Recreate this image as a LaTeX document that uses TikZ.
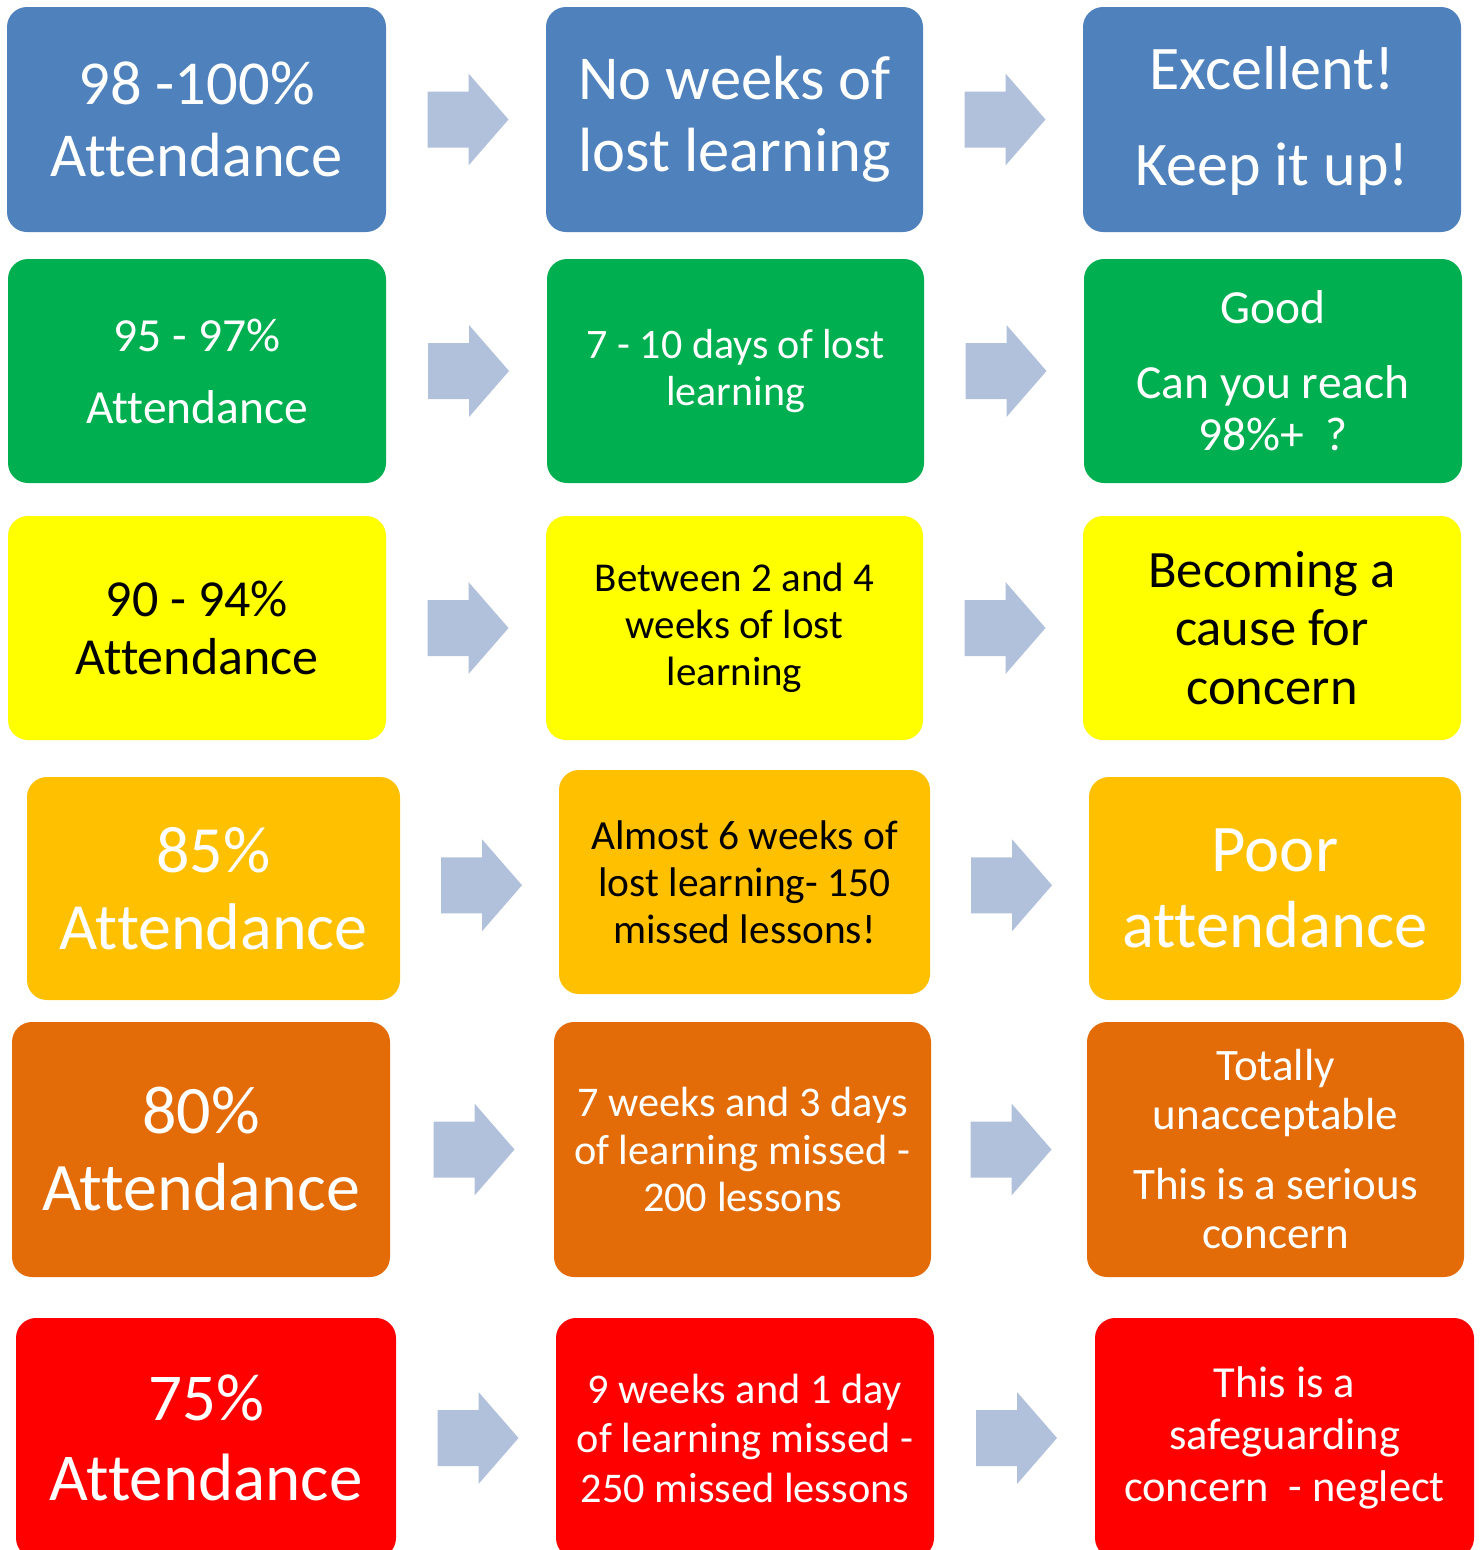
\documentclass[tikz,border=0pt]{standalone}
\usepackage{fontspec}
\setmainfont{Carlito}[Ligatures=NoCommon,Contextuals=NoAlternate]
\usetikzlibrary{calc}
\definecolor{cblue}{HTML}{4F81BD}
\definecolor{cgreen}{HTML}{00B050}
\definecolor{cyellow}{HTML}{FFFF00}
\definecolor{corange}{HTML}{FFC000}
\definecolor{cdorange}{HTML}{E36C09}
\definecolor{cred}{HTML}{FF0000}
\definecolor{carrow}{HTML}{B2C1DB}
\newcommand\fs[2]{\fontsize{#1}{#2}\selectfont}
\tikzset{
  box/.style={rounded corners=20pt, inner sep=0pt, align=center, draw=none},
  wbox/.style={box, text=white},
  kbox/.style={box, text=black},
  blockarrow/.pic={\fill[carrow] (-40.5,-28) -- (0.5,-28) -- (0.5,-46) -- (40.5,0) -- (0.5,46) -- (0.5,28) -- (-40.5,28) -- cycle;}
}
\begin{document}
\begin{tikzpicture}[x=1pt,y=-1pt]
\clip (0,0) rectangle (1480,1550);
\fill[white] (0,0) rectangle (1480,1550);

% Row 1
\node[wbox, fill=cblue, minimum width=379pt, minimum height=225pt, font=\fs{62.5}{72}] (A1) at (196.5,119.5) {98 -100\%\\Attendance};
\node[wbox, fill=cblue, minimum width=377pt, minimum height=225pt, font=\fs{62.5}{72}] (B1) at (734.5,119.5) {No weeks of\\lost learning};
\node[wbox, fill=cblue, minimum width=378pt, minimum height=225pt, font=\fs{62}{74}, text depth=8pt] (C1) at (1272,119.5) {Excellent!\\[22pt]Keep it up!};

% Row 2
\node[wbox, fill=cgreen, minimum width=378pt, minimum height=224pt, font=\fs{47.5}{57}] (A2) at (197,371) {95 - 97\%\\[15pt]Attendance};
\node[wbox, fill=cgreen, minimum width=377pt, minimum height=224pt, font=\fs{42}{47}] (B2) at (735.5,371) {7 - 10 days of lost\\learning};
\node[wbox, fill=cgreen, minimum width=378pt, minimum height=224pt, font=\fs{47.5}{52}] (C2) at (1273,371) {Good\\[23pt]Can you reach\\98\%+\ \ ?};

% Row 3
\node[kbox, fill=cyellow, minimum width=378pt, minimum height=224pt, font=\fs{52}{58}] (A3) at (197,628) {90 - 94\%\\Attendance};
\node[kbox, fill=cyellow, minimum width=377pt, minimum height=224pt, font=\fs{41}{47}] (B3) at (734.5,628) {Between 2 and 4\\weeks of lost\\learning};
\node[kbox, fill=cyellow, minimum width=378pt, minimum height=224pt, font=\fs{52.5}{58.5}] (C3) at (1272,628) {Becoming a\\cause for\\concern};

% Row 4
\node[wbox, fill=corange, minimum width=373pt, minimum height=223pt, font=\fs{66}{77}] (A4) at (213.5,888.5) {85\%\\Attendance};
\node[kbox, fill=corange, minimum width=371pt, minimum height=224pt, font=\fs{41.4}{47}] (B4) at (744.5,882) {Almost 6 weeks of\\lost learning- 150\\missed lessons!};
\node[wbox, fill=corange, minimum width=372pt, minimum height=223pt, font=\fs{66.6}{76}] (C4) at (1275,888.5) {Poor\\attendance};

% Row 5
\node[wbox, fill=cdorange, minimum width=378pt, minimum height=255pt, font=\fs{68}{77}] (A5) at (201,1149.5) {80\%\\Attendance};
\node[wbox, fill=cdorange, minimum width=377pt, minimum height=255pt, font=\fs{42.3}{47.5}] (B5) at (742.5,1149.5) {7 weeks and 3 days\\of learning missed -\\200 lessons};
\node[wbox, fill=cdorange, minimum width=377pt, minimum height=255pt, font=\fs{45}{49}] (C5) at (1275.5,1149.5) {Totally\\unacceptable\\[21pt]This is a serious\\concern};

% Row 6
\node[wbox, fill=cred, minimum width=380pt, minimum height=240pt, font=\fs{67}{80}] (A6) at (206,1438) {75\%\\Attendance};
\node[wbox, fill=cred, minimum width=378pt, minimum height=240pt, font=\fs{42.3}{49.5}] (B6) at (745,1438) {9 weeks and 1 day\\of learning missed -\\250 missed lessons};
\node[wbox, fill=cred, minimum width=379pt, minimum height=240pt, font=\fs{44.4}{52}] (C6) at (1284.5,1438) {This is a\\safeguarding\\concern\ \ - neglect};

% Arrows
\foreach \r in {1,...,6}{
  \pic (ra\r) at ($(A\r.east)!0.5!(B\r.west)+(2,0)$) {blockarrow};
  \pic (rb\r) at ($(B\r.east)!0.5!(C\r.west)+(2,0)$) {blockarrow};
}
\end{tikzpicture}
\end{document}
